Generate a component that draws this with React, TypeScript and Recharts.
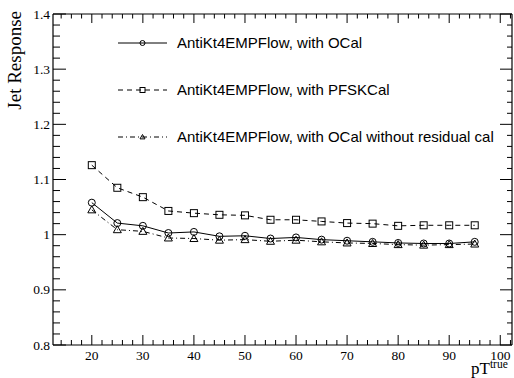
import React from "react";
import { LineChart, Line, XAxis, YAxis } from "recharts";

// pT^true bins
const PT = [20, 25, 30, 35, 40, 45, 50, 55, 60, 65, 70, 75, 80, 85, 90, 95];

// jet response per bin
const OCAL = [1.058, 1.021, 1.016, 1.003, 1.005, 0.997, 0.998, 0.993, 0.995, 0.991, 0.989, 0.987, 0.985, 0.984, 0.984, 0.987];
const PFSKCAL = [1.126, 1.085, 1.068, 1.043, 1.039, 1.036, 1.035, 1.027, 1.027, 1.024, 1.021, 1.02, 1.016, 1.017, 1.017, 1.017];
const OCAL_NORESID = [1.045, 1.009, 1.006, 0.994, 0.993, 0.99, 0.991, 0.988, 0.99, 0.987, 0.985, 0.984, 0.982, 0.981, 0.982, 0.983];

const LEGEND_LABELS = [
  "AntiKt4EMPFlow, with OCal",
  "AntiKt4EMPFlow, with PFSKCal",
  "AntiKt4EMPFlow, with OCal without residual cal",
];

const X_MAJOR = [20, 30, 40, 50, 60, 70, 80, 90, 100];
const Y_MAJOR = [0.8, 0.9, 1, 1.1, 1.2, 1.3, 1.4];

const X_DOMAIN = [12.4, 102.3];
const Y_DOMAIN = [0.8, 1.4];

// minor ticks every 2 in x, every 0.02 in y
const X_TICKS: number[] = [];
for (let v = 14; v <= 102; v += 2) X_TICKS.push(v);
const Y_TICKS: number[] = [];
for (let i = 0; i <= 30; i++) Y_TICKS.push(Math.round((0.8 + i * 0.02) * 100) / 100);

const data = PT.map((pt, i) => ({
  pt,
  ocal: OCAL[i],
  pfsk: PFSKCAL[i],
  noresid: OCAL_NORESID[i],
}));

const SERIF = "'Liberation Serif', 'Times New Roman', serif";
const SANS = "'Liberation Sans', Arial, Helvetica, sans-serif";

const isXMajor = (v: number) => X_MAJOR.includes(v);
const isYMajor = (v: number) => Y_MAJOR.some((m) => Math.abs(m - v) < 1e-6);

const BottomTick = ({ x, y, payload }: any) => {
  const v = payload.value;
  const major = isXMajor(v);
  return (
    <g>
      <line x1={x} x2={x} y1={y} y2={y - (major ? 10 : 5)} stroke="#000" />
      {major && (
        <text x={x} y={y + 15} textAnchor="middle" fontFamily={SERIF} fontSize={13.5} fill="#000">
          {v}
        </text>
      )}
    </g>
  );
};

const TopTick = ({ x, y, payload }: any) => {
  const major = isXMajor(payload.value);
  return <line x1={x} x2={x} y1={y} y2={y + (major ? 9 : 4.5)} stroke="#000" />;
};

const LeftTick = ({ x, y, payload }: any) => {
  const v = payload.value;
  const major = isYMajor(v);
  return (
    <g>
      <line x1={x} x2={x + (major ? 13 : 7)} y1={y} y2={y} stroke="#000" />
      {major && (
        <text x={x - 3} y={y + 4.5} textAnchor="end" fontFamily={SERIF} fontSize={13.5} fill="#000">
          {String(Math.round(v * 10) / 10)}
        </text>
      )}
    </g>
  );
};

const RightTick = ({ x, y, payload }: any) => {
  const major = isYMajor(payload.value);
  return <line x1={x} x2={x - (major ? 12 : 5)} y1={y} y2={y} stroke="#000" />;
};

const CircleMark = ({ cx, cy, r = 3.5 }: any) => (
  <circle cx={cx} cy={cy} r={r} fill="none" stroke="#000" strokeWidth={1} />
);
const SquareMark = ({ cx, cy, s = 3.5 }: any) => (
  <rect x={cx - s} y={cy - s} width={s * 2} height={s * 2} fill="none" stroke="#000" strokeWidth={1} />
);
const TriangleMark = ({ cx, cy, s = 4 }: any) => (
  <polygon
    points={`${cx},${cy - s} ${cx - s},${cy + s * 0.75} ${cx + s},${cy + s * 0.75}`}
    fill="none"
    stroke="#000"
    strokeWidth={1}
  />
);

const DASH = ["", "5 4", "5 3 1 3"];
const MARKS = [CircleMark, SquareMark, TriangleMark];
const LEGEND_Y = [43, 90, 137];

const FRAME = { stroke: "#000", strokeWidth: 1.2 };

export default function App() {
  return (
    <div style={{ position: "absolute", left: 0, top: 0, width: 514, height: 378, background: "#fff" }}>
      <LineChart width={514} height={378} data={data} margin={{ top: 13, right: 0, bottom: 0, left: 0 }}>
        <XAxis
          dataKey="pt"
          type="number"
          domain={X_DOMAIN}
          allowDataOverflow
          ticks={X_TICKS}
          interval={0}
          height={33}
          tickSize={0}
          tickMargin={0}
          tickLine={false}
          axisLine={FRAME}
          tick={<BottomTick />}
        />
        <XAxis
          xAxisId="top"
          orientation="top"
          dataKey="pt"
          type="number"
          domain={X_DOMAIN}
          allowDataOverflow
          ticks={X_TICKS}
          interval={0}
          height={1}
          tickSize={0}
          tickMargin={0}
          tickLine={false}
          axisLine={FRAME}
          tick={<TopTick />}
        />
        <YAxis
          type="number"
          domain={Y_DOMAIN}
          allowDataOverflow
          ticks={Y_TICKS}
          interval={0}
          width={53}
          tickSize={0}
          tickMargin={0}
          tickLine={false}
          axisLine={FRAME}
          tick={<LeftTick />}
        />
        <YAxis
          yAxisId="right"
          orientation="right"
          type="number"
          domain={Y_DOMAIN}
          allowDataOverflow
          ticks={Y_TICKS}
          interval={0}
          width={2}
          tickSize={0}
          tickMargin={0}
          tickLine={false}
          axisLine={FRAME}
          tick={<RightTick />}
        />
        <Line
          dataKey="ocal"
          stroke="#000"
          strokeWidth={1}
          isAnimationActive={false}
          dot={(p: any) => <CircleMark key={p.index} cx={p.cx} cy={p.cy} />}
        />
        <Line
          dataKey="pfsk"
          stroke="#000"
          strokeWidth={1}
          strokeDasharray={DASH[1]}
          isAnimationActive={false}
          dot={(p: any) => <SquareMark key={p.index} cx={p.cx} cy={p.cy} />}
        />
        <Line
          dataKey="noresid"
          yAxisId="right"
          xAxisId="top"
          stroke="#000"
          strokeWidth={1}
          strokeDasharray={DASH[2]}
          isAnimationActive={false}
          dot={(p: any) => <TriangleMark key={p.index} cx={p.cx} cy={p.cy} />}
        />
      </LineChart>

      <svg
        width={514}
        height={378}
        style={{ position: "absolute", left: 0, top: 0, pointerEvents: "none", overflow: "visible" }}
      >
        {LEGEND_LABELS.map((label, i) => {
          const Mark = MARKS[i];
          const y = LEGEND_Y[i];
          return (
            <g key={label}>
              <line x1={118} x2={167} y1={y} y2={y} stroke="#000" strokeDasharray={DASH[i] || undefined} />
              <Mark cx={142.5} cy={y} r={2.5} s={2.5} />
              <text x={177} y={y + 5} fontFamily={SANS} fontSize={15} fill="#000">
                {label}
              </text>
            </g>
          );
        })}
        <text
          transform="translate(21,11) rotate(-90)"
          textAnchor="end"
          fontFamily={SERIF}
          fontSize={19}
          fill="#000"
        >
          Jet Response
        </text>
        <text x={471} y={374} fontFamily={SERIF} fontSize={17} fill="#000">
          pT
          <tspan fontSize={11.5} dy={-6}>
            true
          </tspan>
        </text>
      </svg>
    </div>
  );
}
